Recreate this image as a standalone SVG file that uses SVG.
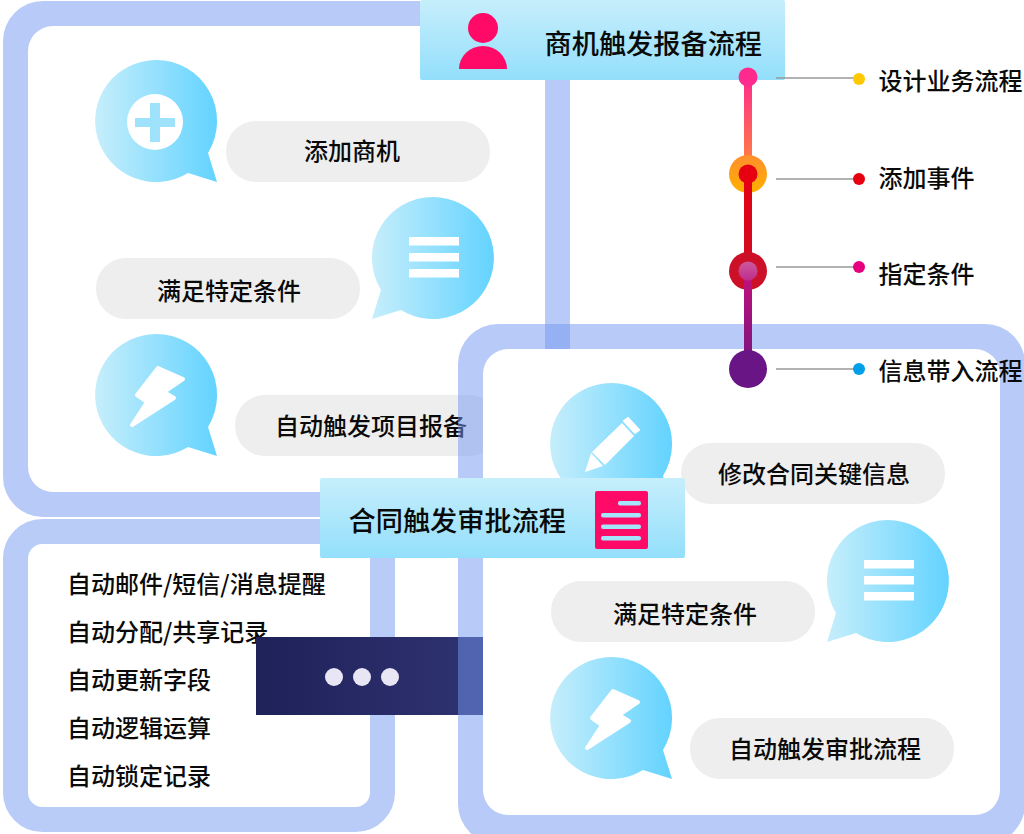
<svg xmlns="http://www.w3.org/2000/svg" width="1024" height="834" viewBox="0 0 1024 834">
<style>
.ring{fill:#7296f0;fill-opacity:.5;fill-rule:evenodd}
.pill{fill:#eee}
.t{font-family:"Noto Sans CJK SC","Noto Sans",sans-serif;font-size:24px;font-weight:500;fill:#0a0a0a}
.h{font-size:27.2px}
.m{text-anchor:middle}
.w{fill:#fff}
.lead{stroke:#999;stroke-width:1.5;fill:none}
</style>
<defs>
<linearGradient id="bub"><stop offset="0" stop-color="#c6eefb"/><stop offset="1" stop-color="#63d3ff"/></linearGradient>
<linearGradient id="card" x1="0" y1="0" x2="0" y2="1"><stop offset="0" stop-color="#c6eefb"/><stop offset="1" stop-color="#93dffb"/></linearGradient>
<linearGradient id="navy"><stop offset="0" stop-color="#1f2159"/><stop offset="1" stop-color="#2f3371"/></linearGradient>
<linearGradient id="l1" gradientUnits="userSpaceOnUse" x1="0" y1="77" x2="0" y2="174"><stop offset="0" stop-color="#ff2a8e"/><stop offset="1" stop-color="#ff8a38"/></linearGradient>
<linearGradient id="l2" gradientUnits="userSpaceOnUse" x1="0" y1="174" x2="0" y2="271"><stop offset="0" stop-color="#e60012"/><stop offset="1" stop-color="#cf0d24"/></linearGradient>
<linearGradient id="l3" gradientUnits="userSpaceOnUse" x1="0" y1="271" x2="0" y2="369"><stop offset="0" stop-color="#c4107a"/><stop offset="1" stop-color="#75167f"/></linearGradient>
<linearGradient id="n2" x1="0" y1="0" x2="0" y2="1"><stop offset="0" stop-color="#ff8f2e"/><stop offset="1" stop-color="#ffb000"/></linearGradient>
<linearGradient id="n3" x1="0" y1="0" x2="0" y2="1"><stop offset="0" stop-color="#cc5a9c"/><stop offset="1" stop-color="#bf2c8c"/></linearGradient>
<path id="br" d="M0-61A61 61 0 0 1 52 32L61 61 32 52A61 61 0 1 1 0-61Z"/>
<path id="bl" d="M0-61A61 61 0 0 0-52 32L-61 61-32 52A61 61 0 1 0 0-61Z"/>
<path id="bolt" fill="#fff" stroke="#fff" stroke-width="4" stroke-linejoin="round" d="M2-27 27-16 8-3 18 3-24 30-9 7-19 0Z"/>
<g id="bars"><rect x="-25" y="-21" width="50" height="8.500"/><rect x="-25" y="-5" width="50" height="8.500"/><rect x="-25" y="11" width="50" height="8.500"/></g>
</defs>

<g id="frame-lead">
<path class="ring" d="M43 1H530A40 40 0 0 1 570 41V517H43A40 40 0 0 1 3 477V41A40 40 0 0 1 43 1ZM53 26A25 25 0 0 0 28 51V467A25 25 0 0 0 53 492H545V26Z"/>
</g>
<g id="node-add"><use href="#br" x="156" y="121" fill="url(#bub)"/><circle class="w" cx="155" cy="122" r="28"/><path fill="#9fe2fb" d="M150 103H160V118H175V127H160V142H150V127H135V118H150Z"/><rect class="pill" x="226" y="121" width="264" height="61" rx="30"/><text class="t m" x="352" y="160">添加商机</text></g>
<g id="node-cond"><use href="#bl" x="433" y="258" fill="url(#bub)"/><use href="#bars" x="434" y="258" class="w"/><rect class="pill" x="96" y="258" width="264" height="61" rx="30"/><text class="t m" x="229" y="300">满足特定条件</text></g>
<g id="node-trigger"><use href="#br" x="156" y="395" fill="url(#bub)"/><use href="#bolt" x="156" y="395"/><rect class="pill" x="235" y="395" width="264" height="61" rx="30"/><text class="t" x="275" y="435">自动触发项目报备</text></g>

<g id="frame-list">
<rect x="15.500" y="531.500" width="367" height="288" rx="27" fill="#fff" stroke="#b9cbf7" stroke-width="25"/>
<text class="t" x="67" y="593">自动邮件/短信/消息提醒</text>
<text class="t" x="67" y="641">自动分配/共享记录</text>
<text class="t" x="67" y="689">自动更新字段</text>
<text class="t" x="67" y="737">自动逻辑运算</text>
<text class="t" x="67" y="785">自动锁定记录</text>
</g>
<g id="node-more">
<rect x="256" y="637" width="227" height="78" fill="url(#navy)"/>
<circle cx="334" cy="677" r="9" fill="#e8e6f5"/><circle cx="362" cy="677" r="9" fill="#e8e6f5"/><circle cx="390" cy="677" r="9" fill="#e8e6f5"/>
</g>

<g id="frame-contract">
<rect x="483" y="349" width="517" height="466" rx="25" fill="#fff"/>
<path class="ring" d="M498 324H985A40 40 0 0 1 1025 364V804A40 40 0 0 1 985 844H498A40 40 0 0 1 458 804V364A40 40 0 0 1 498 324ZM508 349A25 25 0 0 0 483 374V790A25 25 0 0 0 508 815H975A25 25 0 0 0 1000 790V374A25 25 0 0 0 975 349Z"/>
</g>
<g id="node-edit"><use href="#br" x="611" y="444" fill="url(#bub)"/><path class="w" d="M585 472 591 453 603 466ZM592 452 622 423 634 436 605 465Z"/><path class="w" stroke="#fff" stroke-width="2" stroke-linejoin="round" d="M624 421 628 418 639 430 635 433Z"/><rect class="pill" x="681" y="443" width="264" height="61" rx="30"/><text class="t m" x="814" y="483">修改合同关键信息</text></g>
<g id="node-cond2"><use href="#bl" x="888" y="581" fill="url(#bub)"/><use href="#bars" x="889" y="581" class="w"/><rect class="pill" x="551" y="581" width="264" height="61" rx="30"/><text class="t m" x="685" y="623">满足特定条件</text></g>
<g id="node-trigger2"><use href="#br" x="611" y="718" fill="url(#bub)"/><use href="#bolt" x="611" y="718"/><rect class="pill" x="690" y="718" width="264" height="61" rx="30"/><text class="t m" x="825" y="758">自动触发审批流程</text></g>

<g id="node-title1">
<rect x="420" y="0" width="365" height="80" rx="2" fill="url(#card)"/>
<circle cx="483" cy="28" r="15" fill="#ff0a66"/>
<path d="M459 69A24 23 0 0 1 507 69Z" fill="#ff0a66"/>
<text class="t h" x="544.500" y="54">商机触发报备流程</text>
</g>
<g id="node-title2">
<rect x="320" y="478" width="365" height="80" rx="2" fill="url(#card)"/>
<text class="t h" x="348.500" y="531">合同触发审批流程</text>
<rect x="595" y="491" width="53" height="58" rx="2" fill="#ff0a66"/>
<g fill="#a6e4fb"><rect x="618" y="501" width="23" height="4.500" rx="2"/><rect x="601" y="513" width="40" height="4.500" rx="2"/><rect x="601" y="524.500" width="40" height="4.500" rx="2"/><rect x="601" y="536" width="40" height="4.500" rx="2"/></g>
</g>

<g id="connectors">
<path class="lead" d="M776 78H855M776 179H855M776 267H855M776 369H855"/>
<path d="M748 77V174" stroke="url(#l1)" stroke-width="8" fill="none"/>
</g>
<g id="node-step1"><circle cx="748" cy="77" r="9.500" fill="#ff2a8e"/><circle cx="859" cy="79" r="6" fill="#ffc800"/><text class="t" x="878.500" y="90">设计业务流程</text></g>
<g id="node-step2"><circle cx="748" cy="174" r="19" fill="url(#n2)"/><rect x="744" y="174" width="8" height="97" fill="url(#l2)"/><circle cx="748" cy="174" r="9.500" fill="#e60012"/><circle cx="859" cy="179" r="6" fill="#e60012"/><text class="t" x="878.500" y="187">添加事件</text></g>
<g id="node-step3"><circle cx="748" cy="271" r="19" fill="#cc1028"/><rect x="744" y="271" width="8" height="98" fill="url(#l3)"/><circle cx="748" cy="271" r="9.500" fill="url(#n3)"/><circle cx="859" cy="267" r="6" fill="#e6007e"/><text class="t" x="878.500" y="283">指定条件</text></g>
<g id="node-step4"><circle cx="748" cy="369" r="19" fill="#6a1585"/><circle cx="859" cy="369" r="6" fill="#00a0e9"/><text class="t" x="878.500" y="380">信息带入流程</text></g>
</svg>
